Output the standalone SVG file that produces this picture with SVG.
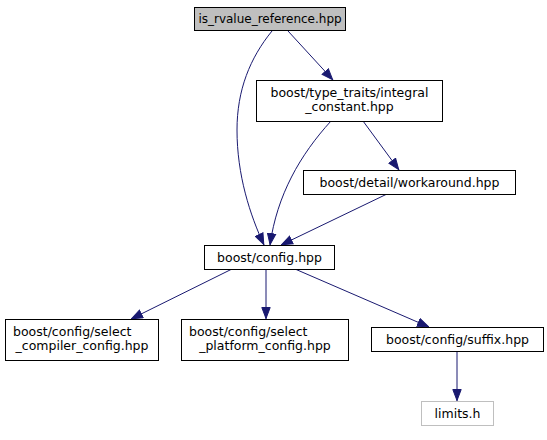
<svg xmlns="http://www.w3.org/2000/svg" width="547" height="440" viewBox="0 0 547 440">
<defs>
<style>
.n rect{fill:#ffffff;stroke:#000000;stroke-width:1}
.n text{font-family:"DejaVu Sans",sans-serif;font-size:12.5px;fill:#000000}
.e path{fill:none;stroke:#191970;stroke-width:1}
</style>
<marker id="ah" viewBox="0 0 12 10" refX="12" refY="5" markerWidth="12" markerHeight="10" markerUnits="userSpaceOnUse" orient="auto">
<path d="M0.5,0.8 L11.5,5 L0.5,9.2 Z" fill="#191970" stroke="#191970"/>
</marker>
</defs>
<rect width="547" height="440" fill="#ffffff"/>
<g class="e">
<path d="M272,31 C250,58 237,90 237,130 C237,175 250,215 264,245" marker-end="url(#ah)"/>
<path d="M288,31 L333,80" marker-end="url(#ah)"/>
<path d="M331,121 C300,155 277,195 270,245" marker-end="url(#ah)"/>
<path d="M363,121 L399,170" marker-end="url(#ah)"/>
<path d="M387,194 L281,245" marker-end="url(#ah)"/>
<path d="M232,269 L131,319" marker-end="url(#ah)"/>
<path d="M266,269 L266,319" marker-end="url(#ah)"/>
<path d="M295,269 L429,327" marker-end="url(#ah)"/>
<path d="M457,351 L457,401" marker-end="url(#ah)"/>
</g>
<g id="node1" class="n"><rect x="194.5" y="7.5" width="151" height="23" style="fill:#bfbfbf"/><text x="270" y="23" text-anchor="middle" style="font-size:12px">is_rvalue_reference.hpp</text></g>
<g id="node2" class="n"><rect x="256.5" y="80.5" width="186" height="41"/><text x="349.5" y="97" text-anchor="middle">boost/type_traits/integral</text><text x="349.5" y="111" text-anchor="middle">_constant.hpp</text></g>
<g id="node3" class="n"><rect x="303.5" y="170.5" width="212" height="24"/><text x="409.5" y="187" text-anchor="middle">boost/detail/workaround.hpp</text></g>
<g id="node4" class="n"><rect x="204.5" y="245.5" width="130" height="24"/><text x="269.5" y="262" text-anchor="middle">boost/config.hpp</text></g>
<g id="node5" class="n"><rect x="5.5" y="319.5" width="153" height="41"/><text x="13" y="336">boost/config/select</text><text x="82" y="350" text-anchor="middle">_compiler_config.hpp</text></g>
<g id="node6" class="n"><rect x="181.5" y="319.5" width="167" height="41"/><text x="189" y="336">boost/config/select</text><text x="265" y="350" text-anchor="middle">_platform_config.hpp</text></g>
<g id="node7" class="n"><rect x="371.5" y="327.5" width="172" height="24"/><text x="457.5" y="344" text-anchor="middle">boost/config/suffix.hpp</text></g>
<g id="node8" class="n"><rect x="421.5" y="401.5" width="72" height="24" style="stroke:#bfbfbf"/><text x="457.5" y="418" text-anchor="middle">limits.h</text></g>
</svg>
